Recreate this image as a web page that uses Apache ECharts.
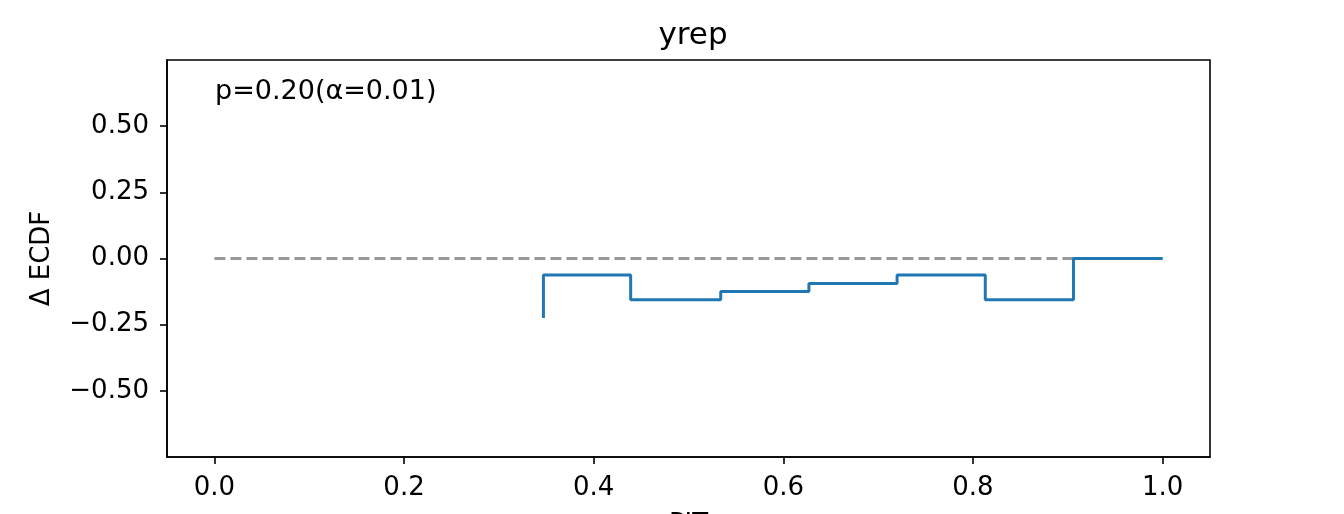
<!DOCTYPE html>
<html>
<head>
<meta charset="utf-8">
<script src="https://cdn.jsdelivr.net/npm/echarts@6/dist/echarts.min.js"></script>
<style>
  html, body { margin: 0; padding: 0; background: #fff; }
  #chart { width: 1344px; height: 514px; }
</style>
</head>
<body>
<div id="chart"></div>
<script>
// PIT positions of the ECDF steps (first one repeated: jump from start value)
var pit = [0.347, 0.347, 0.439, 0.534, 0.627, 0.720, 0.813, 0.906, 1.0];
// delta ECDF value from each position on
var deltaEcdf = [-0.225, -0.0625, -0.156, -0.125, -0.094, -0.0625, -0.156, 0, 0];
// reference line (zero difference)
var refX = [0, 1];
var refY = [0, 0];
var xTicks = [0, 0.2, 0.4, 0.6, 0.8, 1.0];
var yTicks = [-0.5, -0.25, 0, 0.25, 0.5];

var font = 'DejaVu Sans';

var chart = echarts.init(document.getElementById('chart'));
chart.setOption({
    animation: false,
    textStyle: {fontFamily: font},
    title: {
        text: 'yrep',
        left: 688,
        top: 15,
        textAlign: 'center',
        textStyle: {fontFamily: font, fontSize: 31, fontWeight: 'normal', color: '#000'}
    },
    grid: {
        left: 167, right: 134, top: 60, bottom: 57,
        outerBoundsMode: 'none',
        containLabel: false,
        show: true, borderColor: '#000', borderWidth: 1.6, backgroundColor: '#fff'
    },
    xAxis: {
        type: 'value',
        min: -0.05, max: 1.05,
        name: 'PIT',
        nameLocation: 'middle',
        nameGap: 55,
        nameTextStyle: {fontFamily: font, fontSize: 26, color: '#000', verticalAlign: 'top'},
        splitLine: {show: false},
        axisLine: {show: true, onZero: false, lineStyle: {color: '#000', width: 1.6}},
        axisTick: {show: true, length: 7, customValues: xTicks, lineStyle: {color: '#000', width: 1.6}},
        axisLabel: {
            customValues: xTicks, margin: 18,
            fontFamily: font, fontSize: 26, color: '#000',
            formatter: function (v) { return v.toFixed(1); }
        }
    },
    yAxis: {
        type: 'value',
        min: -0.75, max: 0.75,
        name: 'Δ ECDF',
        nameLocation: 'middle',
        nameGap: 112,
        nameTextStyle: {fontFamily: font, fontSize: 26, color: '#000'},
        splitLine: {show: false},
        axisLine: {show: true, onZero: false, lineStyle: {color: '#000', width: 1.6}},
        axisTick: {show: true, length: 7, customValues: yTicks, lineStyle: {color: '#000', width: 1.6}},
        axisLabel: {
            customValues: yTicks, margin: 18,
            fontFamily: font, fontSize: 26, color: '#000',
            formatter: function (v) { return (v < 0 ? '\u2212' : '') + Math.abs(v).toFixed(2); }
        }
    },
    graphic: [{
        type: 'text',
        left: 215,
        top: 78,
        style: {text: 'p=0.20(α=0.01)', font: '27px "DejaVu Sans"', fill: '#000'}
    }],
    series: [
        {
            type: 'line',
            data: refX.map(function (x, i) { return [x, refY[i]]; }),
            symbol: 'none',
            lineStyle: {color: '#999999', width: 2.8, type: [11, 5]},
            z: 1
        },
        {
            type: 'line',
            step: 'end',
            data: pit.map(function (x, i) { return [x, deltaEcdf[i]]; }),
            symbol: 'none',
            lineStyle: {color: '#1f77b4', width: 3},
            z: 2
        }
    ]
});
</script>
</body>
</html>
